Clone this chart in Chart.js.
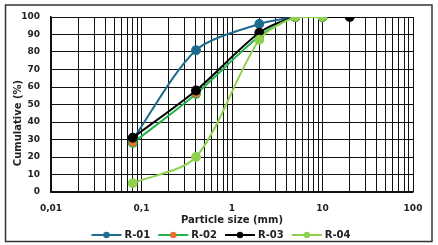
<!DOCTYPE html>
<html>
<head>
<meta charset="utf-8">
<script src="https://cdn.jsdelivr.net/npm/chart.js@4.4.1/dist/chart.umd.min.js"></script>
<style>
  html, body { margin: 0; padding: 0; background: #fff; }
  #wrap { position: relative; width: 438px; height: 245px; }
</style>
</head>
<body>
<div id="wrap"><canvas id="gradation"></canvas></div>
<script>
// sieve sizes (mm) and passing % per sample
const sieveSizes = [0.08, 0.4, 2, 5, 10, 20];
const r01 = [30, 81, 96, 100];
const r02 = [28, 56, 89, 100, 100];
const r03 = [31, 58, 91, 100, 100, 100];
const r04 = [5, 20, 87, 100, 100];

const seriesNames = ['R-01', 'R-02', 'R-03', 'R-04'];
const xMajorTicks = [0.01, 0.1, 1, 10, 100];
const xTickLabels = ['0,01', '0,1', '1', '10', '100'];
const yTicks = [0, 10, 20, 30, 40, 50, 60, 70, 80, 90, 100];

const FONT = 'DejaVu Sans';

// 將數值轉成 {x, y}
function toPoints(values) {
    return values.map((v, i) => ({ x: sieveSizes[i], y: v }));
}

// 圖例小圖示 (線 + 圓點)
function legendIcon(line, fill) {
    const c = document.createElement('canvas');
    c.width = 50; c.height = 10;
    const g = c.getContext('2d');
    g.strokeStyle = line;
    g.lineWidth = 2;
    g.beginPath(); g.moveTo(13, 5); g.lineTo(43, 5); g.stroke();
    g.fillStyle = fill;
    g.beginPath(); g.arc(28, 5, 3.2, 0, Math.PI * 2); g.fill();
    return c;
}

const styles = [
    { line: '#1f6b8f', fill: '#1f6b8f' },
    { line: '#22b24c', fill: '#e8702e' },
    { line: '#000000', fill: '#000000' },
    { line: '#8fd14f', fill: '#8fd14f' }
];
const icons = styles.map(s => legendIcon(s.line, s.fill));

const datasets = [r01, r02, r03, r04].map((vals, i) => ({
    label: seriesNames[i],
    data: toPoints(vals),
    borderColor: styles[i].line,
    backgroundColor: styles[i].fill,
    pointBackgroundColor: styles[i].fill,
    pointBorderColor: styles[i].line,
    pointBorderWidth: 1.2,
    pointRadius: 4.3,
    borderWidth: 2,
    tension: 0.28,
    order: 4 - i
}));

// 外框 + 縱軸標題
const framePlugin = {
    id: 'frame',
    afterDraw(chart) {
        const ctx = chart.ctx;
        ctx.save();
        ctx.strokeStyle = '#333';
        ctx.lineWidth = 1.5;
        ctx.strokeRect(5.5, 5, 426.5, 236.5);
        ctx.translate(18, 123);
        ctx.rotate(-Math.PI / 2);
        ctx.fillStyle = '#222';
        ctx.font = 'bold 10px "' + FONT + '"';
        ctx.textAlign = 'center';
        ctx.textBaseline = 'middle';
        ctx.fillText('Cumulative (%)', 0, 0);
        ctx.restore();
    }
};

const tickFont = { family: FONT, size: 9, weight: 'bold' };

new Chart(document.getElementById('gradation'), {
    type: 'line',
    data: { datasets },
    options: {
        responsive: true,
        maintainAspectRatio: false,
        animation: false,
        layout: { padding: { top: 17, left: 0, right: 0, bottom: -5 } },
        plugins: {
            tooltip: { enabled: false },
            legend: {
                position: 'bottom',
                labels: {
                    usePointStyle: true,
                    pointStyleWidth: 32,
                    padding: 4,
                    color: '#222',
                    font: { family: FONT, size: 10, weight: 'bold' },
                    generateLabels(chart) {
                        const items = Chart.defaults.plugins.legend.labels.generateLabels(chart);
                        items.sort((a, b) => a.datasetIndex - b.datasetIndex);
                        items.forEach(it => { it.pointStyle = icons[it.datasetIndex]; });
                        return items;
                    }
                }
            }
        },
        scales: {
            x: {
                type: 'logarithmic',
                min: 0.01,
                max: 100,
                afterBuildTicks(scale) {
                    const ticks = [];
                    xMajorTicks.slice(0, -1).forEach(d => {
                        for (let k = 1; k <= 9; k++) ticks.push({ value: +(d * k).toPrecision(3) });
                    });
                    ticks.push({ value: xMajorTicks[xMajorTicks.length - 1] });
                    scale.ticks = ticks;
                },
                afterFit(scale) { scale.height = 34; },
                ticks: {
                    autoSkip: false,
                    maxRotation: 0,
                    padding: 11,
                    color: '#222',
                    font: tickFont,
                    callback(value) {
                        const idx = xMajorTicks.findIndex(t => Math.abs(t - value) < t * 1e-6);
                        return idx >= 0 ? xTickLabels[idx] : '';
                    }
                },
                grid: { color: '#111', lineWidth: 1, drawTicks: false },
                border: { color: '#111', width: 1.5 },
                title: {
                    display: true,
                    text: 'Particle size (mm)',
                    color: '#222',
                    font: { family: FONT, size: 10, weight: 'bold' },
                    padding: { top: 1, bottom: 0 }
                }
            },
            y: {
                min: 0,
                max: 100,
                afterBuildTicks(scale) {
                    scale.ticks = yTicks.map(v => ({ value: v }));
                },
                afterFit(scale) { scale.width = 51; },
                ticks: {
                    padding: 11,
                    color: '#222',
                    font: tickFont
                },
                grid: { color: '#111', lineWidth: 1, drawTicks: false },
                border: { color: '#111', width: 1.5 }
            },
            // 右側留白用的空軸
            yRight: {
                position: 'right',
                min: 0,
                max: 100,
                afterFit(scale) { scale.width = 25; },
                ticks: { display: false },
                grid: { display: false, drawOnChartArea: false },
                border: { display: false }
            }
        }
    },
    plugins: [framePlugin]
});
</script>
</body>
</html>
